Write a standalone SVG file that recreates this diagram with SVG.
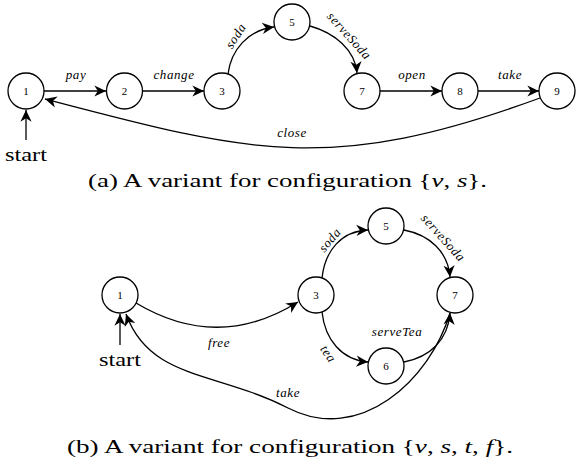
<svg xmlns="http://www.w3.org/2000/svg" width="576" height="468" viewBox="0 0 576 468" font-family="Liberation Serif, serif">
<defs>
<style>
.n circle{fill:#fff;stroke:#000;stroke-width:1.3}
.n text{font-size:11px;text-anchor:middle}
.e path{fill:none;stroke:#000;stroke-width:1.3;marker-end:url(#ah)}
.l{font-style:italic;font-size:13px;letter-spacing:0.6px;text-anchor:middle}
.t{font-size:18px}
.i{font-style:italic}
</style>
<marker id="ah" markerUnits="userSpaceOnUse" markerWidth="14" markerHeight="14" viewBox="-11 -6 12 12" refX="0" refY="0" orient="auto">
<path d="M0,0 L-10,-4.8 L-7,0 L-10,4.8 Z" fill="#000"/>
</marker>
</defs>
<rect width="576" height="468" fill="#fff"/>

<!-- Diagram (a) nodes -->
<g id="a1" class="n"><circle cx="26" cy="91" r="18"/><text x="26" y="95">1</text></g>
<g id="a2" class="n"><circle cx="124.5" cy="91" r="18"/><text x="124.5" y="95">2</text></g>
<g id="a3" class="n"><circle cx="222" cy="91" r="18"/><text x="222" y="95">3</text></g>
<g id="a5" class="n"><circle cx="292" cy="22" r="18"/><text x="292" y="26">5</text></g>
<g id="a7" class="n"><circle cx="362" cy="91" r="18"/><text x="362" y="95">7</text></g>
<g id="a8" class="n"><circle cx="460" cy="91" r="18"/><text x="460" y="95">8</text></g>
<g id="a9" class="n"><circle cx="557" cy="91" r="18"/><text x="557" y="95">9</text></g>

<!-- Diagram (b) nodes -->
<g id="b1" class="n"><circle cx="120" cy="295" r="18"/><text x="120" y="299">1</text></g>
<g id="b3" class="n"><circle cx="316" cy="295" r="18"/><text x="316" y="299">3</text></g>
<g id="b5" class="n"><circle cx="386" cy="226" r="18"/><text x="386" y="230">5</text></g>
<g id="b6" class="n"><circle cx="386" cy="366" r="18"/><text x="386" y="370">6</text></g>
<g id="b7" class="n"><circle cx="455" cy="295" r="18"/><text x="455" y="299">7</text></g>

<g id="connectors" class="e">
<!-- (a) -->
<path d="M26,140 L26,110"/>
<path d="M44,91 L106,91"/>
<path d="M142.5,91 L204,91"/>
<path d="M228,74 C231,50 248,30 274,27"/>
<path d="M310,26 C335,33 355,50 357,73"/>
<path d="M380,91 L442,91"/>
<path d="M478,91 L539,91"/>
<path d="M540,98 C330,175 250,153 45,99"/>
<!-- (b) -->
<path d="M120,345 L120,314"/>
<path d="M136,303 Q218,352 298,302"/>
<path d="M322,278 C325,250 342,231 368,230"/>
<path d="M404,230 C430,235 448,252 450,277"/>
<path d="M322,312 C325,340 342,360 368,362"/>
<path d="M404,362 C430,357 448,340 450,313"/>
<path d="M450,313 C430,380 360,445 288,408 S150,380 126,314"/>
</g>

<g id="labels">
<text class="l" x="76" y="79">pay</text>
<text class="l" x="174" y="79">change</text>
<text class="l" transform="translate(236,36) rotate(-57)" x="0" y="4">soda</text>
<text class="l" transform="translate(349,36) rotate(48)" x="0" y="4">serveSoda</text>
<text class="l" x="412" y="79">open</text>
<text class="l" x="510" y="79">take</text>
<text class="l" x="292" y="137">close</text>
<text class="t" x="5" y="161" textLength="42" lengthAdjust="spacingAndGlyphs">start</text>
<text class="t" x="88" y="187" textLength="399" lengthAdjust="spacingAndGlyphs">(a) A variant for configuration {<tspan class="i">v</tspan>, <tspan class="i">s</tspan>}.</text>

<text class="l" x="219" y="347">free</text>
<text class="l" transform="translate(330,240) rotate(-50)" x="0" y="4">soda</text>
<text class="l" transform="translate(443,238) rotate(48)" x="0" y="4">serveSoda</text>
<text class="l" transform="translate(328,354) rotate(55)" x="0" y="4">tea</text>
<text class="l" x="397" y="336">serveTea</text>
<text class="l" x="288" y="397">take</text>
<text class="t" x="99" y="366" textLength="42" lengthAdjust="spacingAndGlyphs">start</text>
<text class="t" x="67" y="453" textLength="446" lengthAdjust="spacingAndGlyphs">(b) A variant for configuration {<tspan class="i">v</tspan>, <tspan class="i">s</tspan>, <tspan class="i">t</tspan>, <tspan class="i">f</tspan>}.</text>
</g>
</svg>
